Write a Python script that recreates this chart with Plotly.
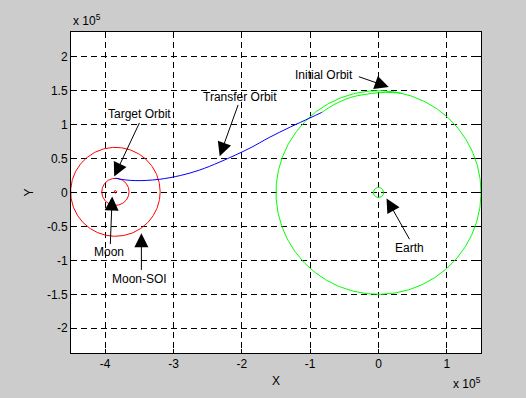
import numpy as np
import plotly.graph_objects as go

# ---- data (km) ----
initial_orbit_center = (0.0, 0.0)
initial_orbit_radius = 1.5e5
earth_center = (0.0, 0.0)
earth_radius = 7.5e3
moon_center = (-3.85e5, 0.01e5)
moon_radius = 1.9e3
target_orbit_radius = 0.2e5
moon_soi_radius = 0.655e5

# transfer trajectory, first (green) part
transfer_green_x = [0.35e5, 0.2e5, 0.0, -0.2e5, -0.41e5, -0.66e5, -0.83e5]
transfer_green_y = [1.459e5, 1.474e5, 1.47e5, 1.445e5, 1.40e5, 1.29e5, 1.18e5]
# transfer trajectory, second (blue) part
transfer_blue_x = [-0.83e5, -1.0e5, -1.29e5, -1.6e5, -1.88e5, -2.32e5, -2.62e5,
                   -2.9e5, -3.2e5, -3.4e5, -3.55e5, -3.7e5, -3.85e5]
transfer_blue_y = [1.18e5, 1.10e5, 0.965e5, 0.81e5, 0.655e5, 0.45e5, 0.33e5,
                   0.25e5, 0.195e5, 0.178e5, 0.175e5, 0.185e5, 0.21e5]

x_ticks = [-4e5, -3e5, -2e5, -1e5, 0, 1e5]
x_tick_labels = ["-4", "-3", "-2", "-1", "0", "1"]
y_ticks = [-2e5, -1.5e5, -1e5, -0.5e5, 0, 0.5e5, 1e5, 1.5e5, 2e5]
y_tick_labels = ["-2", "-1.5", "-1", "-0.5", "0", "0.5", "1", "1.5", "2"]

# annotation labels: (text, text_x, text_y, tail_x, tail_y, tip_x, tip_y)
labels = [
    ("Initial Orbit", -0.80e5, 1.73e5, -0.31e5, 1.714e5, 0.15e5, 1.553e5),
    ("Transfer Orbit", -2.03e5, 1.41e5, -2.044e5, 1.32e5, -2.324e5, 0.535e5),
    ("Target Orbit", -3.5e5, 1.16e5, -3.485e5, 1.055e5, -3.868e5, 0.234e5),
    ("Moon", -3.94e5, -0.88e5, -3.926e5, -0.79e5, -3.897e5, -0.06e5),
    ("Moon-SOI", -3.5e5, -1.275e5, -3.47e5, -1.17e5, -3.47e5, -0.60e5),
    ("Earth", 0.456e5, -0.82e5, 0.47e5, -0.718e5, 0.118e5, -0.088e5),
]


def circle(c, r, n=361):
    t = np.linspace(0, 2 * np.pi, n)
    return c[0] + r * np.cos(t), c[1] + r * np.sin(t)


fig = go.Figure()

def add_circle(c, r, color):
    x, y = circle(c, r)
    fig.add_trace(go.Scatter(x=x, y=y, mode="lines",
                             line=dict(color=color, width=1), hoverinfo="skip"))

add_circle(initial_orbit_center, initial_orbit_radius, "#00ff00")
add_circle(earth_center, earth_radius, "#00ff00")
add_circle(moon_center, moon_soi_radius, "#ff0000")
add_circle(moon_center, target_orbit_radius, "#ff0000")
add_circle(moon_center, moon_radius, "#ff0000")

fig.add_trace(go.Scatter(x=transfer_green_x, y=transfer_green_y, mode="lines",
                         line=dict(color="#00ff00", width=1, shape="spline"), hoverinfo="skip"))
fig.add_trace(go.Scatter(x=transfer_blue_x, y=transfer_blue_y, mode="lines",
                         line=dict(color="#0000ff", width=1, shape="spline"), hoverinfo="skip"))

font = dict(family="Liberation Sans, Arial, sans-serif", size=12, color="black")
tfont = dict(family="Liberation Sans, Arial, sans-serif", size=12, color="black")

W, H = 526, 398
L, R, T, B = 71, 45, 32, 43
pw, ph = W - L - R, H - T - B

annotations = []
for text, tx, ty, ax, ay, hx, hy in labels:
    annotations.append(dict(x=hx, y=hy, ax=ax, ay=ay, xref="x", yref="y",
                            axref="x", ayref="y", text=" ", showarrow=True,
                            arrowhead=2, arrowsize=2.8, arrowwidth=1,
                            arrowcolor="black", font=dict(size=1)))
    annotations.append(dict(x=tx, y=ty, xref="x", yref="y", text=text,
                            showarrow=False, font=font,
                            xanchor="center", yanchor="middle"))

# "x 10^5" exponent labels (pixel positions converted to paper fractions)
for px, py in [(71, 20), (451, 385)]:
    annotations.append(dict(x=(px - L) / pw, y=(H - py - B) / ph,
                            xref="paper", yref="paper",
                            text="x 10<sup>5</sup>", showarrow=False, font=font,
                            xanchor="left", yanchor="middle"))

axis_common = dict(
    showline=True, linecolor="black", linewidth=1, mirror="ticks",
    ticks="inside", ticklen=4, tickcolor="black",
    showgrid=True, gridcolor="black", gridwidth=1, griddash="6px,4px",
    zeroline=False, tickfont=tfont, title_font=tfont,
)

fig.update_xaxes(range=[-4.5e5, 1.5e5], tickvals=x_ticks, ticktext=x_tick_labels,
                 title_text="X", title_standoff=6, **axis_common)
fig.update_yaxes(range=[-2.365e5, 2.365e5], tickvals=y_ticks, ticktext=y_tick_labels,
                 title_text="Y", title_standoff=10, **axis_common)

fig.update_layout(
    width=W, height=H, autosize=False,
    margin=dict(l=L, r=R, t=T, b=B),
    paper_bgcolor="#cccccc", plot_bgcolor="white",
    showlegend=False, annotations=annotations, font=font,
)

fig.write_html("out.html", config={"displayModeBar": False},
               post_script="document.body.style.margin='0';"
                           "document.body.style.background='#cccccc';")
